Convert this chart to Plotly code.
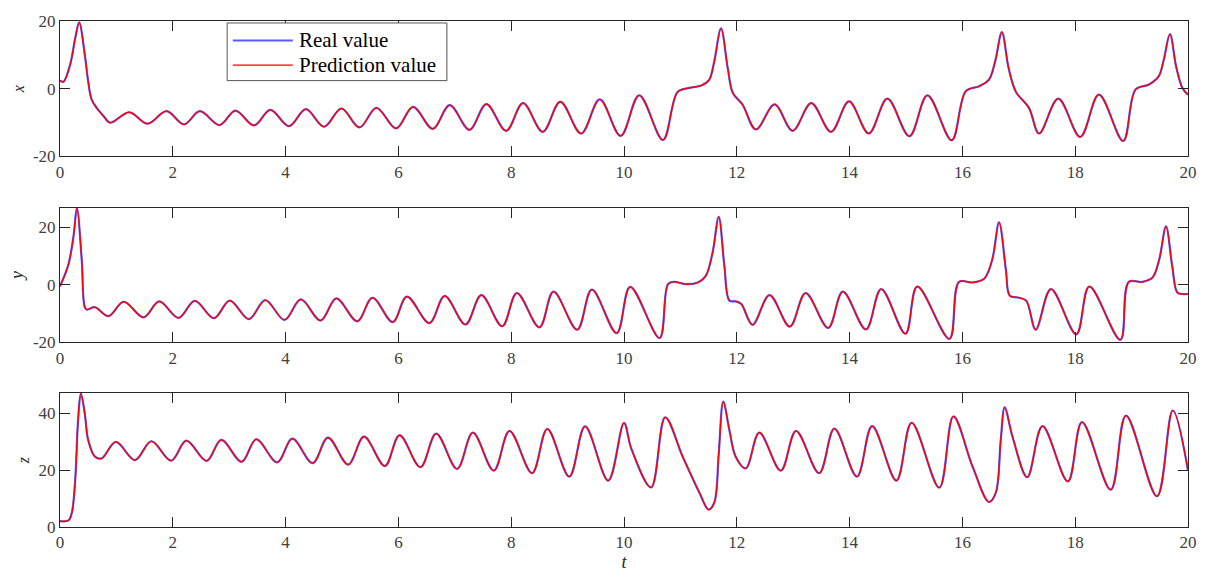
import plotly.graph_objects as go
from plotly.subplots import make_subplots

# ---- data (time, value) ----
t_x = [0.0, 0.06, 0.18, 0.27, 0.34, 0.44, 0.50, 0.56, 0.65, 0.77, 0.886, 1.23, 1.55, 1.89, 2.20, 2.48, 2.83, 3.11,
       3.44, 3.73, 4.06, 4.36, 4.68, 4.99, 5.31, 5.61, 5.96, 6.26, 6.61, 6.91, 7.26, 7.56, 7.91, 8.21, 8.56,
       8.87, 9.24, 9.57, 9.94, 10.27, 10.69, 10.95, 11.16, 11.37, 11.51, 11.60, 11.72, 11.84, 11.93, 12.10,
       12.34, 12.67, 12.99, 13.32, 13.67, 13.99, 14.34, 14.67, 15.06, 15.38, 15.81, 16.06, 16.30, 16.47,
       16.58, 16.70, 16.82, 16.95, 17.18, 17.36, 17.70, 18.09, 18.42, 18.85, 19.07, 19.31, 19.48, 19.57,
       19.68, 19.79, 19.90, 20.0]
v_x = [2.4, 2.0, 7.1, 14.9, 19.6, 10.0, 2.1, -3.2, -5.7, -8.1, -10.1, -7.0, -10.4, -6.7, -10.6, -6.7, -10.8, -6.5,
       -10.9, -6.3, -11.1, -6.1, -11.3, -5.9, -11.5, -5.7, -11.8, -5.4, -11.9, -4.9, -12.2, -4.6, -12.5, -4.3, -12.8,
       -3.9, -13.3, -3.2, -14.0, -2.0, -15.2, -1.0, 0.2, 0.9, 2.6, 8.0, 17.8, 6.0, -1.3, -4.7,
       -12.1, -4.7, -12.5, -4.3, -12.8, -3.8, -13.3, -3.0, -14.1, -2.0, -15.3, -0.8, 0.7, 2.6,
       8.0, 16.7, 6.0, -1.0, -5.7, -13.3, -3.0, -14.3, -1.8, -15.5, -0.3, 1.2, 3.6,
       8.5, 16.1, 6.5, 0.2, -1.8]

t_y = [0.0, 0.15, 0.24, 0.30, 0.385, 0.44, 0.48, 0.62, 0.86, 1.13, 1.48, 1.76, 2.10, 2.39, 2.73, 3.01, 3.35, 3.64,
       3.98, 4.27, 4.62, 4.90, 5.27, 5.54, 5.90, 6.15, 6.55, 6.82, 7.19, 7.47, 7.84, 8.10, 8.50, 8.75, 9.17,
       9.43, 9.87, 10.11, 10.63, 10.78, 10.89, 11.10, 11.31, 11.45, 11.57, 11.68, 11.78, 11.87, 11.99, 12.08,
       12.28, 12.58, 12.94, 13.22, 13.62, 13.88, 14.29, 14.56, 14.99, 15.20, 15.77, 15.94, 16.18, 16.39,
       16.53, 16.65, 16.77, 16.84, 16.98, 17.13, 17.30, 17.57, 18.02, 18.25, 18.80, 18.95, 19.19, 19.37,
       19.49, 19.61, 19.72, 19.81, 19.90, 20.0]
v_y = [-0.5, 7.1, 16.9, 26.7, 8.8, -7.8, -8.6, -7.8, -10.9, -5.9, -11.3, -5.8, -11.5, -5.6, -11.6, -5.5, -11.9, -5.3,
       -12.2, -5.1, -12.4, -4.7, -12.7, -4.5, -13.0, -4.1, -13.3, -3.9, -13.8, -3.6, -14.4, -2.9, -14.8, -2.4, -15.6,
       -1.7, -16.8, -0.7, -18.5, 0.2, 1.0, 0.2, 0.8, 3.1, 11.1, 23.6, 6.5, -5.5, -5.8, -6.7,
       -13.9, -3.6, -14.5, -2.9, -15.0, -2.4, -15.5, -1.5, -17.0, -0.6, -18.8, 1.0, 0.8, 2.2,
       8.8, 21.7, 5.4, -3.8, -4.4, -5.5, -15.6, -1.5, -17.2, -0.6, -19.1, 1.0, 1.0, 2.5,
       8.8, 20.3, 6.5, -2.7, -3.2, -3.2]

t_z = [0.0, 0.15, 0.21, 0.27, 0.32, 0.37, 0.44, 0.50, 0.62, 0.74, 0.99, 1.33, 1.62, 1.97, 2.24, 2.60, 2.86, 3.22,
       3.48, 3.85, 4.12, 4.48, 4.75, 5.11, 5.39, 5.76, 6.02, 6.39, 6.67, 7.04, 7.32, 7.69, 7.97, 8.37, 8.64,
       9.03, 9.31, 9.72, 10.00, 10.13, 10.48, 10.73, 11.04, 11.34, 11.50, 11.60, 11.68, 11.76, 11.87, 11.98, 12.16,
       12.40, 12.78, 13.05, 13.46, 13.73, 14.13, 14.40, 14.83, 15.10, 15.59, 15.84, 16.18, 16.47, 16.59, 16.68,
       16.75, 16.89, 17.15, 17.42, 17.87, 18.12, 18.63, 18.90, 19.45, 19.73, 20.0]
v_z = [2.1, 2.3, 5.0, 16.6, 37.4, 46.9, 39.7, 30.5, 24.7, 24.1, 29.9, 23.5, 30.1, 23.3, 30.3, 23.2, 30.6, 22.9,
       30.8, 22.7, 31.0, 22.4, 31.4, 21.9, 31.7, 21.4, 32.2, 21.0, 32.8, 20.4, 33.1, 19.8, 33.7, 18.9, 34.4,
       17.7, 35.3, 16.3, 36.5, 27.5, 13.9, 38.5, 24.7, 11.9, 6.1, 8.5, 25.8, 44.0, 33.9, 24.7, 20.6,
       33.1, 19.8, 33.7, 18.9, 34.5, 17.7, 35.4, 16.3, 36.6, 13.8, 38.8, 21.2, 8.8, 11.9, 30.5,
       42.0, 31.6, 17.5, 35.4, 16.0, 36.8, 13.1, 39.1, 10.8, 40.9, 19.8]

# prediction series (visually coincident with the real values)
p_t_x, p_v_x = list(t_x), list(v_x)
p_t_y, p_v_y = list(t_y), list(v_y)
p_t_z, p_v_z = list(t_z), list(v_z)

series_names = ["Real value", "Prediction value"]
x_ticks = [0, 2, 4, 6, 8, 10, 12, 14, 16, 18, 20]

FONT = "Liberation Serif"
BLUE = "rgb(90,90,255)"
RED = "rgb(255,0,0)"
TICKC = "#404040"
AXC = "#262626"

fig = make_subplots(rows=3, cols=1, shared_xaxes=False, vertical_spacing=0.1)

panels = [(t_x, v_x, p_t_x, p_v_x), (t_y, v_y, p_t_y, p_v_y), (t_z, v_z, p_t_z, p_v_z)]
for i, (tr, vr, tp, vp) in enumerate(panels, start=1):
    fig.add_trace(go.Scatter(x=tr, y=vr, mode="lines", name=series_names[0],
                             line=dict(color=BLUE, width=2.2, shape="spline", smoothing=1.0),
                             showlegend=False), row=i, col=1)
    fig.add_trace(go.Scatter(x=tp, y=vp, mode="lines", name=series_names[1],
                             line=dict(color=RED, width=1.3, shape="spline", smoothing=1.0),
                             showlegend=False), row=i, col=1)

common_x = dict(range=[0, 20], tickvals=x_ticks, ticks="inside", ticklen=10, tickcolor=AXC,
                showline=True, linecolor=AXC, linewidth=1, mirror="ticks", showgrid=False,
                zeroline=False, tickfont=dict(family=FONT, size=17, color=TICKC))
for i in range(1, 4):
    fig.update_xaxes(**common_x, row=i, col=1)

common_y = dict(ticks="inside", ticklen=10, tickcolor=AXC, showline=True, linecolor=AXC,
                linewidth=1, mirror="ticks", showgrid=False, zeroline=False,
                tickfont=dict(family=FONT, size=17, color=TICKC))
fig.update_yaxes(**common_y, range=[-20, 20], tickvals=[-20, 0, 20], ticktext=["-20", "0", "20"], row=1, col=1)
fig.update_yaxes(**common_y, range=[-20, 26.8], tickvals=[-20, 0, 20], ticktext=["-20", "0", "20"], row=2, col=1)
fig.update_yaxes(**common_y, range=[0, 47], tickvals=[0, 20, 40], ticktext=["0", "20", "40"], row=3, col=1)

fig.update_layout(
    yaxis=dict(domain=[0.7329, 1.0], title=dict(text="<i>x</i>", font=dict(family=FONT, size=16, color=AXC), standoff=4)),
    yaxis2=dict(domain=[0.3649, 0.6312], title=dict(text="<i>y</i>", font=dict(family=FONT, size=18, color=AXC), standoff=4)),
    yaxis3=dict(domain=[0.0, 0.2646], title=dict(text="<i>z</i>", font=dict(family=FONT, size=16, color=AXC), standoff=4)),
    xaxis3=dict(title=dict(text="<i>t</i>", font=dict(family=FONT, size=18, color=AXC), standoff=2)),
)

# ---- legend box drawn in paper coordinates (MATLAB-style) ----
leg_shapes = [
    dict(type="rect", xref="paper", yref="paper", x0=0.1482, x1=0.3430, y0=0.8822, y1=0.9961,
         line=dict(color="#555555", width=1), fillcolor="white", layer="above"),
    dict(type="line", xref="paper", yref="paper", x0=0.1532, x1=0.2064, y0=0.9615, y1=0.9615,
         line=dict(color=BLUE, width=2), layer="above"),
    dict(type="line", xref="paper", yref="paper", x0=0.1532, x1=0.2064, y0=0.9127, y1=0.9127,
         line=dict(color=RED, width=1.3), layer="above"),
]
leg_ann = [
    dict(xref="paper", yref="paper", x=0.2100, y=0.9615, xanchor="left", yanchor="middle",
         text=series_names[0], showarrow=False, font=dict(family=FONT, size=21, color="black")),
    dict(xref="paper", yref="paper", x=0.2100, y=0.9127, xanchor="left", yanchor="middle",
         text=series_names[1], showarrow=False, font=dict(family=FONT, size=21, color="black")),
]

fig.update_layout(
    width=1209, height=579,
    margin=dict(l=60, r=20, t=16, b=51),
    font=dict(family=FONT, size=16, color=TICKC),
    paper_bgcolor="white", plot_bgcolor="white",
    shapes=leg_shapes, annotations=leg_ann,
    showlegend=False,
)

fig.write_html("out.html")
